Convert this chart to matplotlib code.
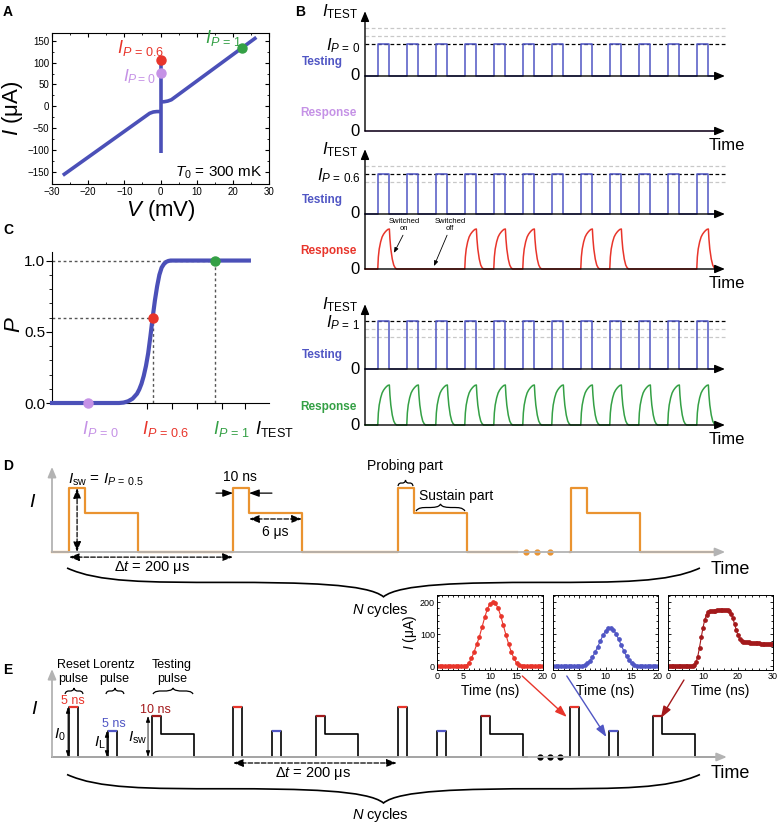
import matplotlib.pyplot as plt
from matplotlib.path import Path
from matplotlib.patches import PathPatch

plt.rcParams['font.family'] = ['Liberation Sans', 'DejaVu Sans']
plt.rcParams['mathtext.fontset'] = 'custom'
plt.rcParams['mathtext.rm'] = 'Liberation Sans'
plt.rcParams['mathtext.it'] = 'Liberation Sans:italic'
plt.rcParams['mathtext.bf'] = 'Liberation Sans:bold'

# ---------------- data ----------------
# A: I-V curve (mV, uA)
iv_left_v = [-27, -3, -2, -1, 0]
iv_left_i = [-158, -16, -13, -12, -12]
iv_mid_v = [0, 0]
iv_mid_i = [-107, 105]
iv_right_v = [0, 1, 2, 3, 26.5]
iv_right_i = [10, 10.5, 12, 15, 158]
i_p0, i_p06, i_p1 = 76, 105, 133      # uA
v_p1 = 22.5                            # mV

# C: switching probability vs I_TEST (uA)
c_itest = [60, 90, 92, 94, 96, 98, 99, 100, 101, 102, 103, 104, 105, 106, 107,
           108, 109, 110, 111, 112, 113, 115, 148]
c_prob = [0, 0, 0.003, 0.012, 0.03, 0.065, 0.095, 0.135, 0.19, 0.26, 0.35, 0.47, 0.6,
          0.72, 0.82, 0.9, 0.95, 0.975, 0.99, 0.997, 1.0, 1.0, 1.0]
c_xticks = [102.5, 113.7, 124.9, 136.1, 146.4]

# B: testing pulses (schematic units, period = 1)
test_starts = [0.44, 1.44, 2.44, 3.44, 4.44, 5.44, 6.44, 7.44, 8.44, 9.44, 10.44, 11.44]
test_width = 0.4
b_levels = [0.8, 1.0, 1.2]            # I_P=0, I_P=0.6, I_P=1
b_level_names = ['0', '0.6', '1']
b_switched = [
    [0, 0, 0, 0, 0, 0, 0, 0, 0, 0, 0, 0],
    [1, 0, 0, 1, 1, 1, 0, 1, 1, 0, 0, 1],
    [1, 1, 1, 1, 1, 1, 1, 1, 1, 1, 1, 1],
]
resp_t = [0, 0.02, 0.05, 0.1, 0.15, 0.2, 0.25, 0.3, 0.35, 0.4, 0.42, 0.45, 0.5, 0.55, 0.6, 0.65]
resp_y = [0, 0.3, 0.5, 0.68, 0.8, 0.87, 0.92, 0.96, 0.99, 1.0, 0.75, 0.5, 0.25, 0.1, 0.03, 0]

# D: probing + sustain pulses (period = 1 <-> 200 us)
d_starts = [0.103, 1.097, 2.097, 3.145]
d_probe_w = 0.097
d_sustain_end = 0.418
d_probe_lvl = 1.0
d_sustain_lvl = 0.61

# E: reset / Lorentz / testing pulses
e_starts = [0.103, 1.097, 2.097, 3.139]
e_reset_w = 0.057
e_lor_off, e_lor_w = 0.236, 0.055
e_test_off, e_probe_w, e_sustain_end = 0.503, 0.053, 0.758
e_reset_lvl, e_lor_lvl, e_probe_lvl, e_sustain_lvl = 1.0, 0.52, 0.82, 0.46

# insets: measured pulse shapes (ns, uA)
ins_t20 = [0, 0.5, 1, 1.5, 2, 2.5, 3, 3.5, 4, 4.5, 5, 5.5, 6, 6.5, 7, 7.5, 8, 8.5, 9, 9.5,
           10, 10.5, 11, 11.5, 12, 12.5, 13, 13.5, 14, 14.5, 15, 15.5, 16, 16.5, 17, 17.5,
           18, 18.5, 19, 19.5, 20]
reset_i = [0, 0, 0, 0, 0, 0, 0, 0, 0, 0, 0, 2, 10, 24, 45, 68, 92, 122, 152, 178,
           195, 199, 196, 182, 158, 128, 98, 70, 45, 25, 10, 3, 1, 0, 0, 0, 0, 0, 0, 0, 0]
lorentz_i = [0, 0, 0, 0, 0, 0, 0, 0, 0, 0, 0, 1, 4, 9, 17, 28, 43, 60, 78, 96,
             110, 118, 119, 113, 101, 84, 65, 47, 31, 18, 9, 4, 1, 0, 0, 0, 0, 0, 0, 0, 0]
ins_t30 = [0, 0.5, 1, 1.5, 2, 2.5, 3, 3.5, 4, 4.5, 5, 5.5, 6, 6.5, 7, 7.5, 8, 8.5, 9, 9.5,
           10, 10.5, 11, 11.5, 12, 12.5, 13, 13.5, 14, 14.5, 15, 15.5, 16, 16.5, 17, 17.5,
           18, 18.5, 19, 19.5, 20, 20.5, 21, 21.5, 22, 22.5, 23, 23.5, 24, 24.5, 25, 25.5,
           26, 26.5, 27, 27.5, 28, 28.5, 29, 29.5, 30]
testing_i = [0, 0, 0, 0, 0, 0, 0, 0, 0, 0, 0, 0, 0, 0, 0, 3, 12, 30, 58, 90,
             120, 145, 160, 168, 171, 172, 173, 173, 174, 174, 175, 175, 176, 176, 175, 172,
             164, 150, 132, 113, 96, 85, 79, 76, 75, 74, 74, 73, 73, 72, 72, 71,
             71, 70, 70, 70, 69, 69, 69, 68, 68]

# colours
curve_blue = '#4b50b8'
test_blue = '#5056c4'
purple = '#c592e6'
red = '#e8352b'
green = '#34a045'
dark_red = '#a3191b'
orange = '#ea9330'
gray = '#b3b3b3'

W, H = 779, 824
fig = plt.figure(figsize=(W / 100, H / 100), dpi=100)


def px_axes(left, top, right, bottom):
    return fig.add_axes([left / W, 1 - bottom / H, (right - left) / W, (bottom - top) / H])


def sketch_axes(x0, sx, y0, sy, top, bottom):
    # full-width transparent axes; data origin at pixel (x0, y0), sx/sy pixels per unit
    ax = px_axes(0, top, W, bottom)
    ax.set_xlim(-x0 / sx, (W - x0) / sx)
    ax.set_ylim((y0 - bottom) / sy, (y0 - top) / sy)
    ax.axis('off')
    ax.patch.set_alpha(0)
    return ax


def arrow(ax, p0, p1, color='k', lw=1.0, style='-|>', hl=0.6, hw=0.25, ls='-', ms=10):
    ax.annotate('', xy=p1, xytext=p0, annotation_clip=False,
                arrowprops=dict(arrowstyle=f'{style},head_length={hl},head_width={hw}',
                                color=color, lw=lw, ls=ls, shrinkA=0, shrinkB=0,
                                mutation_scale=ms))


def brace(ax, x0, x1, y, depth, lw=1.0):
    xm = (x0 + x1) / 2
    L = xm - x0
    h = depth
    verts = [(x0, y),
             (x0 + 0.1 * L, y + 0.5 * h), (x0 + 0.25 * L, y + 0.5 * h), (x0 + 0.5 * L, y + 0.5 * h),
             (x0 + 0.75 * L, y + 0.5 * h), (xm - 0.05 * L, y + 0.55 * h), (xm, y + h),
             (xm + 0.05 * L, y + 0.55 * h), (x1 - 0.75 * L, y + 0.5 * h), (x1 - 0.5 * L, y + 0.5 * h),
             (x1 - 0.25 * L, y + 0.5 * h), (x1 - 0.1 * L, y + 0.5 * h), (x1, y)]
    codes = [Path.MOVETO] + [Path.CURVE4] * 12
    ax.add_patch(PathPatch(Path(verts, codes), fill=False, lw=lw, color='k', clip_on=False))


def plabel(x, y, s):
    fig.text(x / W, 1 - y / H, s, fontsize=10, fontweight='bold', va='center')


# ---------------- A ----------------
axA = px_axes(52, 33, 269, 184)
for v, i in [(iv_left_v, iv_left_i), (iv_mid_v, iv_mid_i), (iv_right_v, iv_right_i)]:
    axA.plot(v, i, color=curve_blue, lw=2.6, solid_capstyle='butt')
axA.plot([0], [i_p06], 'o', color=red, ms=6.5)
axA.plot([0], [i_p0], 'o', color=purple, ms=6.5)
axA.plot([v_p1], [i_p1], 'o', color=green, ms=6.5)
axA.set_xlim(-30, 30)
axA.set_ylim(-178, 168)
axA.set_xticks([-30, -20, -10, 0, 10, 20, 30])
axA.set_yticks([-150, -100, -50, 0, 50, 100, 150])
axA.set_xticks([-25, -15, -5, 5, 15, 25], minor=True)
axA.set_yticks([-125, -75, -25, 25, 75, 125], minor=True)
axA.tick_params(which='both', direction='in', top=True, right=True, labelsize=7, pad=2)
axA.tick_params(which='major', length=3)
axA.tick_params(which='minor', length=1.5)
axA.set_xlabel(r'$V$ (mV)', fontsize=16)
axA.xaxis.set_label_coords(0.5, -0.09)
axA.set_ylabel(r'$I$ ($\mathrm{\mu}$A)', fontsize=16)
axA.yaxis.set_label_coords(-0.125, 0.5)
axA.text(-12.0, 134, r'$I_{P\,=\,0.6}$', color=red, fontsize=13, va='center')
axA.text(-10.4, 68, r'$I_{P=0}$', color=purple, fontsize=12.5, va='center')
axA.text(12.3, 156, r'$I_{P\,=\,1}$', color=green, fontsize=13, va='center')
axA.text(28.3, -152, r'$T_0$ = 300 mK', fontsize=11, ha='right', va='center')

# ---------------- C ----------------
axC = px_axes(52, 252, 269, 403)
axC.plot(c_itest, c_prob, color=curve_blue, lw=3, clip_on=False, zorder=3)
dot = dict(color='#555555', lw=1.0, ls=(0, (2, 2)))
axC.plot([60, i_p06], [0.6, 0.6], **dot)
axC.plot([60, i_p1], [1.0, 1.0], **dot)
axC.plot([i_p06, i_p06], [0, 0.6], **dot)
axC.plot([i_p1, i_p1], [0, 1.0], **dot)
axC.plot([i_p0], [0], 'o', color=purple, ms=6.5, clip_on=False, zorder=4)
axC.plot([i_p06], [0.6], 'o', color=red, ms=6.5, clip_on=False, zorder=4)
axC.plot([i_p1], [1.0], 'o', color=green, ms=6.5, clip_on=False, zorder=4)
axC.set_xlim(60, 157)
axC.set_ylim(0, 1.06)
axC.spines['top'].set_visible(False)
axC.spines['right'].set_visible(False)
axC.set_xticks(c_xticks)
axC.set_xticklabels([])
axC.set_yticks([0, 0.5, 1.0])
axC.set_yticklabels(['0.0', '0.5', '1.0'])
axC.set_yticks([0.1, 0.2, 0.3, 0.4, 0.6, 0.7, 0.8, 0.9], minor=True)
axC.tick_params(which='major', length=4, labelsize=11, pad=1)
axC.tick_params(which='minor', length=2)
axC.set_ylabel(r'$P$', fontsize=16)
axC.yaxis.set_label_coords(-0.125, 0.52)
tr = axC.get_xaxis_transform()
for xpos, s, col in [(73.4, r'$I_{P\,=\,0}$', purple), (100.2, r'$I_{P\,=\,0.6}$', red),
                     (132.0, r'$I_{P\,=\,1}$', green), (150.7, r'$I_{\mathrm{TEST}}$', 'k')]:
    axC.text(xpos, -0.17, s, color=col, fontsize=13, va='center', transform=tr, clip_on=False)

# ---------------- B ----------------
b_base_px = [76, 214, 369]
b_resp_off = [-1.375, -1.375, -1.4]
b_resp_col = [purple, red, green]
for k in range(3):
    yb = b_base_px[k]
    ax = sketch_axes(365, 29, yb, 40, yb - 75, yb + 80)
    off = b_resp_off[k]
    lvl = b_levels[k]
    for j, lv in enumerate(b_levels):
        ax.plot([0, 12.41], [lv, lv], color='k' if j == k else '#c8c8c8', lw=0.9, ls=(0, (3, 2)))
    arrow(ax, (0, off), (0, 1.62))
    arrow(ax, (0, 0), (12.41, 0))
    arrow(ax, (0, off), (12.41, off))
    xs, ys = [0], [0]
    for s in test_starts:
        xs += [s, s, s + test_width, s + test_width]
        ys += [0, lvl, lvl, 0]
    xs.append(12.0)
    ys.append(0)
    ax.plot(xs, ys, color=test_blue, lw=1.1)
    rx, ry = [0], [off]
    for s, sw in zip(test_starts, b_switched[k]):
        if sw:
            rx += [s + t for t in resp_t]
            ry += [off + r for r in resp_y]
    rx.append(12.2)
    ry.append(off)
    ax.plot(rx, ry, color=b_resp_col[k], lw=1.1)
    ax.text(-0.25, 1.62, r'$I_{\mathrm{TEST}}$', fontsize=12, ha='right', va='center')
    ax.text(-0.15, lvl - 0.05, r'$I_{P\,=\,%s}$' % b_level_names[k], fontsize=12,
            ha='right', va='center')
    ax.text(-0.76, 0.35, 'Testing', color=test_blue, fontsize=8.5, fontweight='bold',
            ha='right', va='center')
    ax.text(-0.17, 0, '0', fontsize=12, ha='right', va='center')
    ax.text(-0.28, off + 0.45, 'Response', color=b_resp_col[k], fontsize=8.5,
            fontweight='bold', ha='right', va='center')
    ax.text(-0.17, off, '0', fontsize=12, ha='right', va='center')
    ax.text(12.48, off - 0.36, 'Time', fontsize=12, ha='center', va='center')
    if k == 1:
        ax.text(1.34, -0.27, 'Switched\non', fontsize=5.5, ha='center', va='center',
                linespacing=1.1)
        arrow(ax, (1.31, -0.53), (1.0, -0.97), lw=0.6, hl=0.5, hw=0.2, ms=6)
        ax.text(2.93, -0.27, 'Switched\noff', fontsize=5.5, ha='center', va='center',
                linespacing=1.1)
        arrow(ax, (2.83, -0.53), (2.38, -1.3), lw=0.6, hl=0.5, hw=0.2, ms=6)

# ---------------- D ----------------
axD = sketch_axes(52, 165, 552, 64, 455, 625)
arrow(axD, (0, 0), (0, 1.33), color=gray, lw=1.3)
arrow(axD, (0, 0), (4.08, 0), color=gray, lw=1.3)
segs = [([0], [0], d_starts[:3], 2.818), ([3.139], [0], d_starts[3:], 4.03)]
for xs, ys, starts, xend in segs:
    xs, ys = list(xs), list(ys)
    for s in starts:
        xs += [s, s, s + d_probe_w, s + d_probe_w, s + d_sustain_end, s + d_sustain_end]
        ys += [0, d_probe_lvl, d_probe_lvl, d_sustain_lvl, d_sustain_lvl, 0]
    xs.append(xend)
    ys.append(0)
    axD.plot(xs, ys, color=orange, lw=1.6, clip_on=False)
axD.plot([2.87, 2.94, 3.02], [0, 0, 0], 'o', color=orange, ms=3.5, clip_on=False)
axD.text(-0.115, 0.77, r'$I$', fontsize=14, ha='center', va='center')
axD.text(0.097, 1.125, r'$I_{\mathrm{sw}}$ = $I_{P\,=\,0.5}$', fontsize=11, ha='left', va='center')
arrow(axD, (0.152, 0), (0.152, 1.0), style='<|-|>', lw=0.9, ls='--', hl=0.6, hw=0.22)
arrow(axD, (0.103, -0.08), (1.097, -0.08), style='<|-|>', lw=0.9, ls='--', hl=0.6, hw=0.22)
axD.text(0.606, -0.25, 'Δ$t$ = 200 μs', fontsize=10.5, ha='center', va='center')
axD.text(1.14, 1.17, '10 ns', fontsize=10, ha='center', va='center')
arrow(axD, (0.994, 0.92), (1.097, 0.92), lw=0.9, hl=0.6, hw=0.22)
arrow(axD, (1.333, 0.92), (1.194, 0.92), lw=0.9, hl=0.6, hw=0.22)
arrow(axD, (1.194, 0.516), (1.515, 0.516), style='<|-|>', lw=0.9, ls='--', hl=0.6, hw=0.22)
axD.text(1.35, 0.31, '6 μs', fontsize=10, ha='center', va='center')
axD.text(2.14, 1.34, 'Probing part', fontsize=10, ha='center', va='center')
brace(axD, 2.097, 2.188, 1.03, 0.095, lw=0.9)
axD.text(2.45, 0.875, 'Sustain part', fontsize=10, ha='center', va='center')
brace(axD, 2.206, 2.503, 0.64, 0.11, lw=0.9)
axD.text(4.11, -0.28, 'Time', fontsize=13, ha='center', va='center')
brace(axD, 0.091, 3.927, -0.25, -0.45, lw=1.2)
axD.text(1.99, -0.906, r'$N$ cycles', fontsize=10.5, ha='center', va='center')

# ---------------- E ----------------
axE = sketch_axes(52, 165, 757, 50, 655, 824)
arrow(axE, (0, 0), (0, 1.76), color=gray, lw=1.3)
arrow(axE, (0, 0), (4.09, 0), color=gray, lw=1.3)
segs = [([0], [0], e_starts[:3], 2.879), ([3.109], [0], e_starts[3:], 4.03)]
for xs, ys, starts, xend in segs:
    xs, ys = list(xs), list(ys)
    for s in starts:
        xs += [s, s, s + e_reset_w, s + e_reset_w]
        ys += [0, e_reset_lvl, e_reset_lvl, 0]
        xs += [s + e_lor_off, s + e_lor_off, s + e_lor_off + e_lor_w, s + e_lor_off + e_lor_w]
        ys += [0, e_lor_lvl, e_lor_lvl, 0]
        t0 = s + e_test_off
        xs += [t0, t0, t0 + e_probe_w, t0 + e_probe_w, s + e_sustain_end, s + e_sustain_end]
        ys += [0, e_probe_lvl, e_probe_lvl, e_sustain_lvl, e_sustain_lvl, 0]
    xs.append(xend)
    ys.append(0)
    axE.plot(xs, ys, color='k', lw=1.2, clip_on=False)
for s in e_starts:
    axE.plot([s, s + e_reset_w], [e_reset_lvl] * 2, color=red, lw=1.6, solid_capstyle='butt')
    axE.plot([s + e_lor_off, s + e_lor_off + e_lor_w], [e_lor_lvl] * 2, color=test_blue,
             lw=1.6, solid_capstyle='butt')
    axE.plot([s + e_test_off, s + e_test_off + e_probe_w], [e_probe_lvl] * 2, color=dark_red,
             lw=1.6, solid_capstyle='butt')
axE.plot([2.96, 3.02, 3.08], [0, 0, 0], 'o', color='k', ms=3.5, clip_on=False)
axE.text(-0.103, 0.94, r'$I$', fontsize=14, ha='center', va='center')
for xc, s in [(0.127, 'Reset\npulse'), (0.376, 'Lorentz\npulse'), (0.727, 'Testing\npulse')]:
    axE.text(xc, 1.70, s, fontsize=9, ha='center', va='center', linespacing=1.2)
brace(axE, 0.079, 0.188, 1.26, 0.12, lw=0.9)
brace(axE, 0.327, 0.436, 1.26, 0.12, lw=0.9)
brace(axE, 0.612, 0.855, 1.26, 0.12, lw=0.9)
axE.text(0.127, 1.12, '5 ns', color=red, fontsize=9, ha='center', va='center')
axE.text(0.376, 0.66, '5 ns', color=test_blue, fontsize=9, ha='center', va='center')
axE.text(0.624, 0.94, '10 ns', color=dark_red, fontsize=9, ha='center', va='center')
arrow(axE, (0.097, 0), (0.097, e_reset_lvl), style='<|-|>', lw=0.6, hl=0.6, hw=0.2, ms=6)
arrow(axE, (0.333, 0), (0.333, e_lor_lvl), style='<|-|>', lw=0.6, hl=0.6, hw=0.2, ms=6)
arrow(axE, (0.582, 0), (0.582, e_probe_lvl), style='<|-|>', lw=0.6, hl=0.6, hw=0.2, ms=6)
axE.text(0.05, 0.44, r'$I_0$', fontsize=11, ha='center', va='center')
axE.text(0.29, 0.28, r'$I_{\mathrm{L}}$', fontsize=11, ha='center', va='center')
axE.text(0.52, 0.38, r'$I_{\mathrm{sw}}$', fontsize=11, ha='center', va='center')
arrow(axE, (1.097, -0.12), (2.09, -0.12), style='<|-|>', lw=0.9, ls='--', hl=0.6, hw=0.22)
axE.text(1.58, -0.34, 'Δ$t$ = 200 μs', fontsize=10.5, ha='center', va='center')
axE.text(4.11, -0.34, 'Time', fontsize=13, ha='center', va='center')
brace(axE, 0.091, 3.927, -0.35, -0.57, lw=1.2)
axE.text(1.99, -1.16, r'$N$ cycles', fontsize=10.5, ha='center', va='center')
arrow(axE, (2.85, 1.62), (3.12, 0.80), color=red, lw=1.0, hl=0.7, hw=0.25)
arrow(axE, (3.12, 1.62), (3.36, 0.40), color=test_blue, lw=1.0, hl=0.7, hw=0.25)
arrow(axE, (3.83, 1.54), (3.69, 0.78), color=dark_red, lw=1.0, hl=0.7, hw=0.25)

# ---------------- insets ----------------
ins_pos = [(437, 595, 543, 670), (553, 595, 658, 670), (668, 595, 773, 670)]
ins_data = [(ins_t20, reset_i, red, 20), (ins_t20, lorentz_i, test_blue, 20),
            (ins_t30, testing_i, dark_red, 30)]
for n, (pos, (t, cur, col, tmax)) in enumerate(zip(ins_pos, ins_data)):
    ax = px_axes(*pos)
    ax.plot(t, cur, '-o', color=col, ms=2.4, lw=0.8)
    ax.set_xlim(0, tmax)
    ax.set_ylim(-12, 222)
    if tmax == 20:
        ax.set_xticks([0, 5, 10, 15, 20])
        ax.set_xticks(range(0, 21), minor=True)
    else:
        ax.set_xticks([0, 10, 20, 30])
        ax.set_xticks(range(0, 31, 2), minor=True)
    ax.set_yticks([0, 100, 200])
    ax.set_yticks(range(0, 221, 20), minor=True)
    ax.tick_params(which='both', direction='in', top=True, right=True, labelsize=6.5, pad=1.5,
                   width=0.6)
    ax.tick_params(which='major', length=2.5)
    ax.tick_params(which='minor', length=1.2)
    for sp in ax.spines.values():
        sp.set_linewidth(0.7)
    ax.set_xlabel('Time (ns)', fontsize=10, labelpad=2)
    if n == 0:
        ax.set_ylabel(r'$I$ ($\mathrm{\mu}$A)', fontsize=10, labelpad=1)
    else:
        ax.set_yticklabels([])

plabel(3, 12, 'A')
plabel(295, 12, 'B')
plabel(3, 230, 'C')
plabel(3, 466, 'D')
plabel(3, 670, 'E')

fig.savefig('out.png', dpi=100)
